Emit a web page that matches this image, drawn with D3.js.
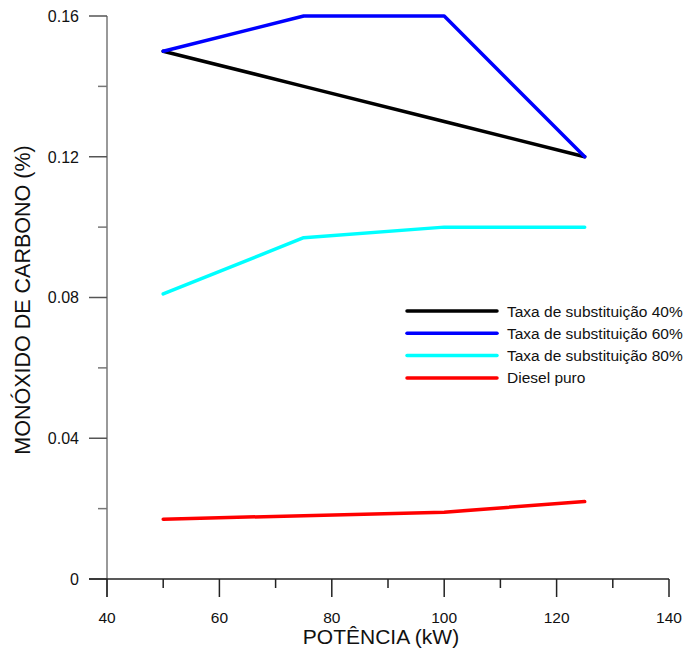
<!DOCTYPE html>
<html><head><meta charset="utf-8">
<script src="https://cdn.jsdelivr.net/npm/d3@7"></script>
<style>body{margin:0;background:#fff;} svg{display:block;font-family:Arial,"Liberation Sans",sans-serif;}</style>
</head><body>
<svg id="c" width="686" height="650"></svg>
<script>
const potencia = [50, 75, 100, 125];
const taxa40 = [0.15, 0.14, 0.13, 0.12];
const taxa60 = [0.15, 0.16, 0.16, 0.12];
const taxa80 = [0.081, 0.097, 0.1, 0.1];
const diesel = [0.017, 0.018, 0.019, 0.022];
const seriesNames = ["Taxa de substituição 40%", "Taxa de substituição 60%", "Taxa de substituição 80%", "Diesel puro"];
const seriesColors = ["#000000", "#0000ff", "#00ffff", "#ff0000"];
const xTicks = [40, 60, 80, 100, 120, 140];
const yTicks = [0, 0.04, 0.08, 0.12, 0.16];
const yTickLabels = ["0", "0.04", "0.08", "0.12", "0.16"];

const svg = d3.select("#c");
const x = d3.scaleLinear().domain([40, 140]).range([107, 669]);
const y = d3.scaleLinear().domain([0, 0.16]).range([579, 16]);

// y axis (extends below the x axis)
const gy = svg.append("g");
gy.append("line").attr("x1", 107).attr("x2", 107).attr("y1", y(0.16)).attr("y2", 597)
  .attr("stroke", "#777").attr("stroke-width", 1.5);
yTicks.forEach((v, i) => {
  gy.append("line").attr("x1", 89).attr("x2", 107).attr("y1", y(v)).attr("y2", y(v)).attr("stroke", "#555").attr("stroke-width", 1.5);
  gy.append("text").attr("x", 79).attr("y", y(v)).attr("dy", "0.36em").attr("text-anchor", "end")
    .attr("font-size", 16).attr("fill", "#111").text(yTickLabels[i]);
});
d3.range(0.02, 0.16, 0.04).forEach(v => {
  gy.append("line").attr("x1", 98).attr("x2", 107).attr("y1", y(v)).attr("y2", y(v)).attr("stroke", "#777").attr("stroke-width", 1.5);
});

// x axis (extends left of y axis)
const gx = svg.append("g");
gx.append("line").attr("x1", 89).attr("x2", x(140)).attr("y1", 579).attr("y2", 579).attr("stroke", "#222").attr("stroke-width", 1.5);
xTicks.forEach(v => {
  gx.append("line").attr("x1", x(v)).attr("x2", x(v)).attr("y1", 579).attr("y2", 597).attr("stroke", "#222").attr("stroke-width", 1.5);
  gx.append("text").attr("x", x(v)).attr("y", 617).attr("dy", "0.36em").attr("text-anchor", "middle")
    .attr("font-size", 15.5).attr("fill", "#111").text(v);
});
d3.range(50, 140, 20).forEach(v => {
  gx.append("line").attr("x1", x(v)).attr("x2", x(v)).attr("y1", 579).attr("y2", 588).attr("stroke", "#222").attr("stroke-width", 1.5);
});

// titles
svg.append("text").attr("x", 381).attr("y", 644).attr("text-anchor", "middle")
  .attr("font-size", 21).attr("fill", "#111").text("POTÊNCIA (kW)");
svg.append("text").attr("transform", `translate(22,300) rotate(-90)`).attr("dy", "0.36em")
  .attr("text-anchor", "middle").attr("font-size", 21.5).attr("fill", "#111").text("MONÓXIDO DE CARBONO (%)");

// lines
const data = [taxa40, taxa60, taxa80, diesel];
const line = d3.line().x((d, i) => x(potencia[i])).y(d => y(d));
data.forEach((s, k) => {
  svg.append("path").datum(s).attr("d", line).attr("fill", "none")
    .attr("stroke", seriesColors[k]).attr("stroke-width", 3.5).attr("stroke-linejoin", "round").attr("stroke-linecap", "round");
});

// legend
const lg = svg.append("g");
seriesNames.forEach((n, k) => {
  const yy = 311 + k * 22.3;
  lg.append("line").attr("x1", 407).attr("x2", 497).attr("y1", yy).attr("y2", yy)
    .attr("stroke", seriesColors[k]).attr("stroke-width", 3.5).attr("stroke-linecap", "round");
  lg.append("text").attr("x", 507).attr("y", yy).attr("dy", "0.36em").attr("font-size", 15.5).attr("fill", "#111").text(n);
});
</script>
</body></html>
